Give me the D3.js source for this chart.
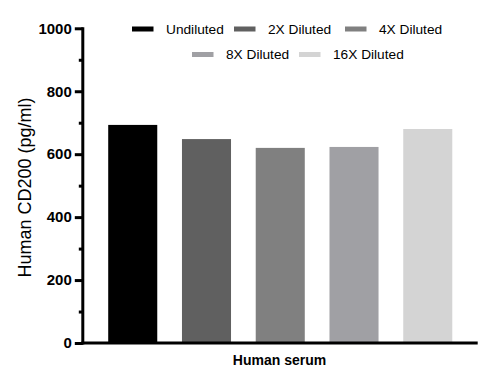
<!DOCTYPE html>
<html>
<head>
<meta charset="utf-8">
<script src="https://cdn.jsdelivr.net/npm/d3@7"></script>
<style>
  html, body { margin: 0; padding: 0; background: #fff; }
  svg { display: block; }
  text { font-family: "Liberation Sans", Arial, sans-serif; }
</style>
</head>
<body>
<svg id="chart" width="487" height="383"></svg>
<script>
// ---- data ----
const category = "Human serum";
const series = ["Undiluted", "2X Diluted", "4X Diluted", "8X Diluted", "16X Diluted"];
const values = [693, 648, 620, 623, 680];
const yTicks = [0, 200, 400, 600, 800, 1000];
const yMinorTicks = [100, 300, 500, 700, 900];
const yTitle = "Human CD200 (pg/ml)";

// ---- styles ----
const colors = ["#000000", "#606060", "#808080", "#a0a0a4", "#d4d4d4"];

const svg = d3.select("#chart");

const x = d3.scaleBand().domain(series).range([83.5, 477]).padding(0.335);
const y = d3.scaleLinear().domain([0, 1000]).range([343, 28.3]);

// bars
svg.append("g").selectAll("rect")
  .data(series.map((s, i) => ({ s, v: values[i], c: colors[i] })))
  .join("rect")
  .attr("x", d => x(d.s))
  .attr("width", x.bandwidth())
  .attr("y", d => y(d.v))
  .attr("height", d => y(0) - y(d.v))
  .attr("fill", d => d.c);

// y axis (major)
const yAxisG = svg.append("g").attr("transform", "translate(82.8,0)")
  .call(d3.axisLeft(y).tickValues(yTicks).tickSize(8).tickSizeOuter(0).tickPadding(3)
    .tickFormat(d3.format("d")));
yAxisG.select(".domain").attr("stroke", "#000").attr("stroke-width", 3)
  .attr("d", `M0,${y(1000) - 1}V${y(0) + 1.5}`);
yAxisG.selectAll(".tick line").attr("stroke", "#000").attr("stroke-width", 3);
yAxisG.selectAll(".tick text")
  .attr("font-size", 15).attr("font-weight", "bold").attr("fill", "#000")
  .attr("font-family", "'Liberation Sans', Arial, sans-serif");

// y axis minor ticks
const yMinorG = svg.append("g").attr("transform", "translate(82.8,0)")
  .call(d3.axisLeft(y).tickValues(yMinorTicks).tickSize(4).tickSizeOuter(0).tickFormat(""));
yMinorG.select(".domain").remove();
yMinorG.selectAll(".tick line").attr("stroke", "#000").attr("stroke-width", 3);

// x axis
const xAxisG = svg.append("g").attr("transform", `translate(0,${y(0)})`)
  .call(d3.axisBottom(x).tickSize(0).tickFormat(""));
xAxisG.select(".domain").attr("stroke", "#000").attr("stroke-width", 3)
  .attr("d", `M81.3,0H477.7`);

// x label
svg.append("text")
  .attr("x", 279.5).attr("y", 365)
  .attr("text-anchor", "middle")
  .attr("font-size", 14).attr("font-weight", "bold")
  .text(category);

// y title
svg.append("text")
  .attr("transform", "translate(31,187.5) rotate(-90)")
  .attr("text-anchor", "middle")
  .attr("font-size", 18)
  .text(yTitle);

// legend
const legendPos = [
  { x: 132, row: 0 }, { x: 234, row: 0 }, { x: 345, row: 0 },
  { x: 192, row: 1 }, { x: 299, row: 1 }
];
const rowY = [29, 54.5];
const lg = svg.append("g").selectAll("g")
  .data(series.map((s, i) => ({ s, c: colors[i], p: legendPos[i] })))
  .join("g")
  .attr("transform", d => `translate(${d.p.x},${rowY[d.p.row]})`);
lg.append("rect").attr("x", 0).attr("y", -2.5).attr("width", 21.5).attr("height", 5)
  .attr("fill", d => d.c);
lg.append("text").attr("x", 34).attr("y", 4.5)
  .attr("font-size", 13.7).attr("fill", "#000")
  .text(d => d.s);
</script>
</body>
</html>
